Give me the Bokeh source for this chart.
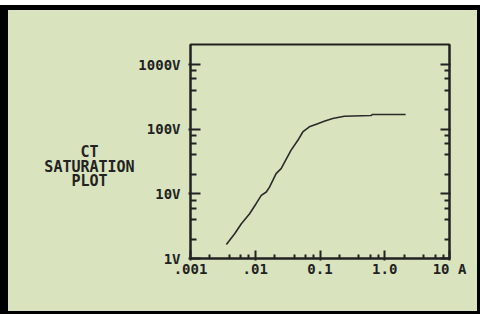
from bokeh.plotting import figure
from bokeh.models import FixedTicker, LogAxis, CustomJSTickFormatter, Range1d
from bokeh.layouts import row
from bokeh.embed import file_html
from bokeh.resources import INLINE

# ---- data ----
current_a = [0.00358, 0.00481, 0.0061, 0.00818, 0.0103, 0.0124, 0.0148, 0.0166,
             0.021, 0.0251, 0.0356, 0.0455, 0.0542, 0.0684, 0.0922, 0.116,
             0.157, 0.237, 0.61, 0.64, 2.1]
voltage_v = [1.65, 2.41, 3.45, 4.93, 7.05, 9.48, 10.7, 12.7,
             20.6, 24.6, 47.2, 67.5, 90.8, 109, 122, 133,
             147, 159, 163, 169, 169]

x_ticks = [0.001, 0.01, 0.1, 1.0, 10.0]
x_tick_labels = [".001", ".01", "0.1", "1.0", "10 A"]
y_ticks = [1, 10, 100, 1000]
y_tick_labels = ["1V", "10V", "100V", "1000V"]
minor_mult = [2, 4, 6, 8]
title_lines = ["CT", "SATURATION", "PLOT"]

BG = "#d9e3be"
INK = "#222222"
FONT = "DejaVu Sans Mono"

x_minor = [m * t for t in x_ticks[:-1] for m in minor_mult]
y_minor = [m * t for t in y_ticks[:-1] for m in minor_mult]

H = 301
BT, BB = 34, 53          # top / bottom borders shared by both panels
FH = H - BT - BB         # frame height in px

# ---- left panel holding the multi-line caption ----
LW = 127
left = figure(width=LW, height=H, x_range=Range1d(0, LW), y_range=Range1d(FH, 0),
              x_axis_location=None, y_axis_location=None,
              output_backend="svg", toolbar_location=None,
              min_border_left=0, min_border_right=0,
              min_border_top=BT, min_border_bottom=BB)
left.background_fill_color = BG
left.border_fill_color = BG
left.outline_line_color = None
left.grid.visible = False
left.text(x=[81, 81, 81], y=[107, 122, 136], text=title_lines,
          text_align="center", text_baseline="middle",
          text_font={"value": FONT}, text_font_size="15px",
          text_font_style="bold", text_color=INK)

# ---- main log-log plot ----
p = figure(width=342, height=H, x_axis_type="log", y_axis_type="log",
           x_range=(0.001, 10), y_range=(1, 2050),
           output_backend="svg", toolbar_location=None,
           min_border_left=54, min_border_top=BT, min_border_right=28,
           min_border_bottom=BB)
p.background_fill_color = BG
p.border_fill_color = BG
p.outline_line_color = INK
p.outline_line_width = 2
p.grid.visible = False

fmt_code = """
for (let i = 0; i < vals.length; i++) {
  if (Math.abs(Math.log10(tick) - Math.log10(vals[i])) < 1e-6) return labs[i];
}
return '';
"""

xa = p.xaxis[0]
xa.ticker = FixedTicker(ticks=x_ticks, minor_ticks=x_minor)
xa.formatter = CustomJSTickFormatter(args=dict(vals=x_ticks, labs=x_tick_labels), code=fmt_code)
xa.axis_line_color = INK
xa.axis_line_width = 2
xa.major_tick_line_color = INK
xa.major_tick_line_width = 2
xa.major_tick_in = 8
xa.major_tick_out = 2
xa.minor_tick_line_color = INK
xa.minor_tick_line_width = 2
xa.minor_tick_in = 4
xa.minor_tick_out = 0
xa.major_label_text_font = FONT
xa.major_label_text_font_size = "14px"
xa.major_label_text_font_style = "bold"
xa.major_label_text_color = INK
xa.major_label_standoff = 0

ya = p.yaxis[0]
ya.ticker = FixedTicker(ticks=y_ticks, minor_ticks=y_minor)
ya.formatter = CustomJSTickFormatter(args=dict(vals=y_ticks, labs=y_tick_labels), code=fmt_code)
ya.axis_line_color = INK
ya.axis_line_width = 2
ya.major_tick_line_color = INK
ya.major_tick_line_width = 2
ya.major_tick_in = 10
ya.major_tick_out = 2
ya.minor_tick_line_color = INK
ya.minor_tick_line_width = 2
ya.minor_tick_in = 6
ya.minor_tick_out = 0
ya.major_label_text_font = FONT
ya.major_label_text_font_size = "14px"
ya.major_label_text_font_style = "bold"
ya.major_label_text_color = INK
ya.major_label_standoff = 8

ra = LogAxis(ticker=FixedTicker(ticks=y_ticks, minor_ticks=y_minor),
             formatter=CustomJSTickFormatter(code="return '';"),
             axis_line_color=INK, axis_line_width=2,
             major_tick_line_color=INK, major_tick_line_width=2,
             major_tick_in=9, major_tick_out=1,
             minor_tick_line_color=INK, minor_tick_line_width=2,
             minor_tick_in=5, minor_tick_out=0,
             major_label_text_font_size="1px")
p.add_layout(ra, "right")

p.line(current_a, voltage_v, line_color="#2a2a2a", line_width=1.6)

layout = row(left, p, styles={"background-color": BG,
                              "border-style": "solid",
                              "border-color": "black",
                              "border-width": "5px 3px 3px 8px",
                              "margin-top": "5px"})

open("out.html", "w").write(file_html(layout, INLINE))
